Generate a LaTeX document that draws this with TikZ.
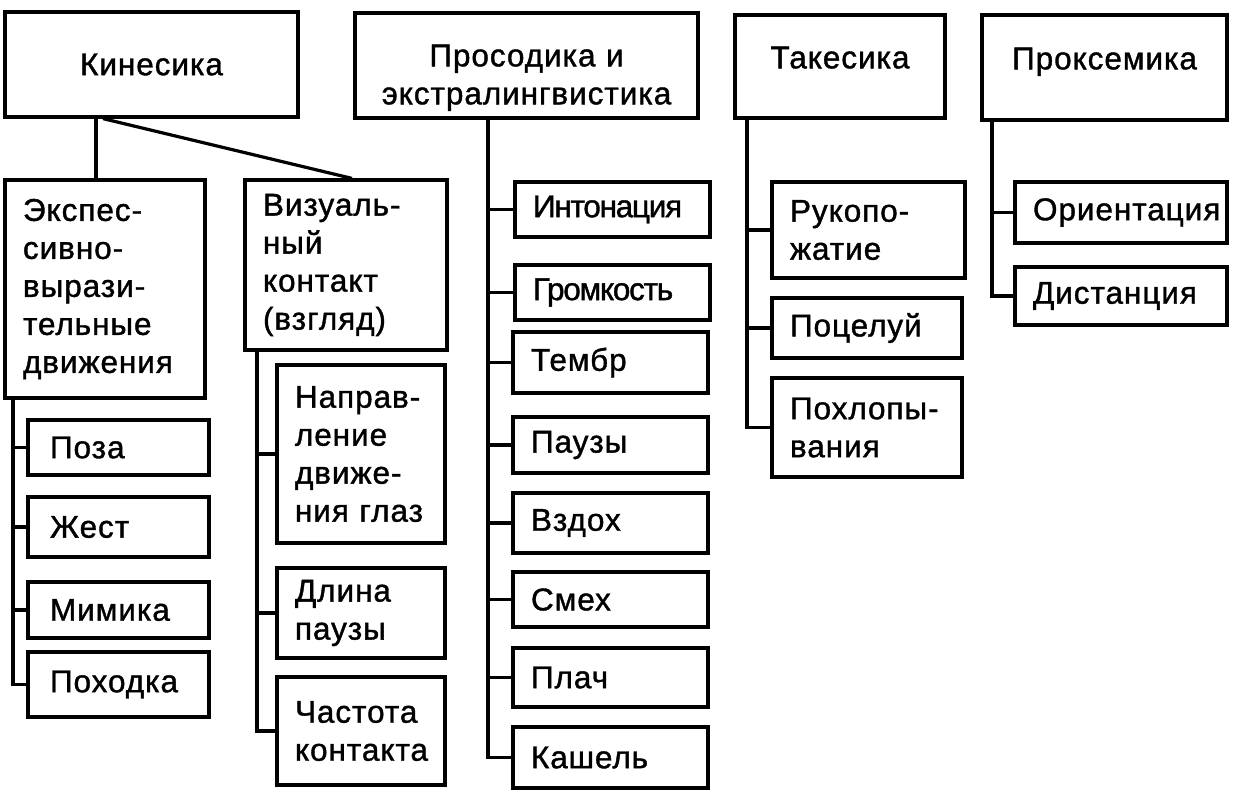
\documentclass[tikz,border=0pt]{standalone}
\usepackage{fontspec}
\setmainfont{Liberation Sans}[LetterSpace=3, FakeBold=1.2]
\newcommand\mybox[7][]{%
  \pgfmathsetmacro\bw{#5-#3}%
  \pgfmathsetmacro\bh{#6-#4}%
  \pgfmathsetmacro\tw{#5-#3-36}%
  \node[box, minimum width=\bw pt, minimum height=\bh pt, text width=\tw pt, #1] (#2) at ({(#3+#5)/2},{(#4+#6)/2}) {#7};}
\tikzset{
  box/.style={draw, line width=3.2pt, inner xsep=18pt, inner ysep=0pt, align=left,
    font=\fontsize{31.5}{38}\selectfont},
  conn/.style={line width=3.2pt}
}
\begin{document}
\begin{tikzpicture}[x=1pt,y=-1pt]
\useasboundingbox (0,0) rectangle (1233,792);
% top level
\mybox[align=center]{kin}{5}{12}{298}{117}{Кинесика}
\mybox[align=center, text depth=20pt]{pros}{355}{13}{698}{118}{Просодика и\\экстралингвистика}
\mybox[align=center, text depth=18pt]{tak}{735}{15}{945}{118}{Такесика}
\mybox[align=center, text depth=18pt]{prox}{982}{15}{1227}{120}{Проксемика}
% kinesics
\mybox{exp}{5}{180}{205}{398}{Экспес-\\сивно-\\вырази-\\тельные\\движения}
\mybox{vis}{245}{180}{447}{350}{Визуаль-\\ный\\контакт\\(взгляд)}
\mybox[inner xsep=22pt]{poza}{32}{420}{205}{475}{Поза}
\mybox[inner xsep=22pt]{zhest}{32}{497}{205}{557}{Жест}
\mybox[inner xsep=22pt]{mim}{32}{582}{205}{638}{Мимика}
\mybox[inner xsep=22pt]{pokh}{32}{652}{205}{717}{Походка}
\mybox{napr}{277}{365}{445}{543}{Направ-\\ление\\движе-\\ния глаз}
\mybox{dlina}{277}{568}{445}{658}{Длина\\паузы}
\mybox{chast}{277}{677}{445}{785}{Частота\\контакта}
% prosody
\mybox[inner xsep=13pt]{inton}{515}{182}{710}{237}{\addfontfeature{LetterSpace=-4}Интонация}
\mybox[inner xsep=13pt]{grom}{515}{265}{710}{320}{\addfontfeature{LetterSpace=-4}Громкость}
\mybox[inner xsep=13pt]{temb}{513}{332}{708}{393}{Тембр}
\mybox[inner xsep=13pt]{pauz}{513}{417}{708}{473}{Паузы}
\mybox[inner xsep=13pt]{vzd}{513}{493}{708}{553}{Вздох}
\mybox[inner xsep=13pt]{smekh}{513}{572}{708}{627}{Смех}
\mybox[inner xsep=13pt]{plach}{513}{648}{708}{707}{Плач}
\mybox[inner xsep=13pt]{kash}{513}{727}{708}{788}{Кашель}
% takesics
\mybox{ruk}{772}{182}{965}{278}{Рукопо-\\жатие}
\mybox{poc}{772}{298}{962}{358}{Поцелуй}
\mybox{pokhl}{772}{378}{962}{477}{Похлопы-\\вания}
% proxemics
\mybox{orient}{1015}{182}{1227}{243}{Ориентация}
\mybox{dist}{1015}{267}{1227}{325}{Дистанция}

% connectors
\draw[conn] (kin.south -| 96,0) -- (exp.north -| 96,0);
\draw[conn] (kin.south -| 103,0) -- (vis.north -| 352,0);
% expressive
\coordinate (ex0) at (exp.south -| 13,0);
\draw[conn] (ex0) |- (pokh.west);
\draw[conn] (poza.west -| ex0) -- (poza.west);
\draw[conn] (zhest.west -| ex0) -- (zhest.west);
\draw[conn] (mim.west -| ex0) -- (mim.west);
% visual
\coordinate (vi0) at (vis.south -| 257,0);
\draw[conn] (vi0) |- (chast.west);
\draw[conn] (napr.west -| vi0) -- (napr.west);
\draw[conn] (dlina.west -| vi0) -- (dlina.west);
% prosody
\coordinate (pr0) at (pros.south -| 488,0);
\draw[conn] (pr0) |- (kash.west);
\foreach \n in {inton,grom,temb,pauz,vzd,smekh,plach}
  \draw[conn] (\n.west -| pr0) -- (\n.west);
% takesics
\coordinate (ta0) at (tak.south -| 747,0);
\draw[conn] (ta0) |- (pokhl.west);
\draw[conn] (ruk.west -| ta0) -- (ruk.west);
\draw[conn] (poc.west -| ta0) -- (poc.west);
% proxemics
\coordinate (px0) at (prox.south -| 992,0);
\draw[conn] (px0) |- (dist.west);
\draw[conn] (orient.west -| px0) -- (orient.west);
\end{tikzpicture}
\end{document}
